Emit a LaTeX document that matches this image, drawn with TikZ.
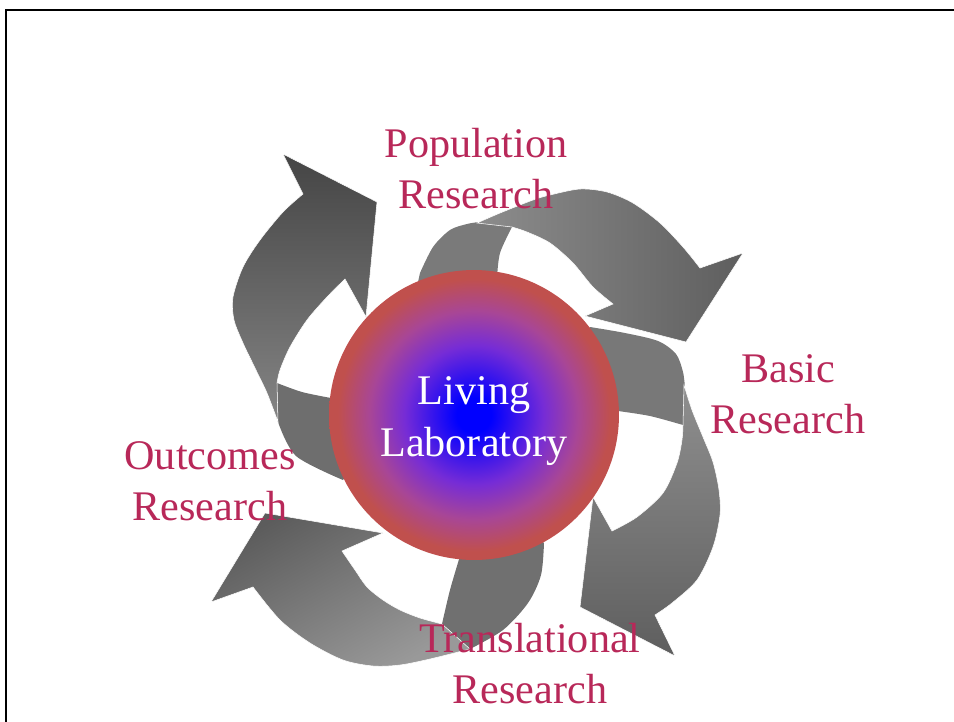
\documentclass[tikz,border=0pt]{standalone}
\usepackage{fontspec}
\setmainfont{Liberation Serif}
\definecolor{labelred}{RGB}{184,40,89}
\definecolor{labred}{RGB}{192,80,77}
\definecolor{labmid}{RGB}{118,44,214}
\definecolor{labpink}{RGB}{168,70,150}
\pgfdeclareradialshading{livinglab}{\pgfpoint{0bp}{0bp}}{color(0bp)=(blue); color(3bp)=(blue); color(12bp)=(labmid); color(18bp)=(labpink); color(23.5bp)=(labred); color(50bp)=(labred)}
\tikzset{
  frameline/.style={line width=1.1pt},
  arrowbody/.style={draw=white, line width=0.3pt},
  research/.style={text=labelred, font=\fontsize{24}{29}\selectfont, align=center, inner sep=0pt},
  labcircle/.style={circle, minimum size=5.8cm, inner sep=0pt, shade, shading=livinglab},
  labtext/.style={text=white, font=\fontsize{24}{29.5}\selectfont, align=center, inner sep=0pt}
}
\begin{document}
\begin{tikzpicture}[x=0.02cm,y=-0.02cm]

\def\TOPTAIL{black!52}
\def\RIGHTTAIL{black!53}
\def\BOTTOMTAIL{black!56}
\def\LEFTTAIL{black!57}
	\useasboundingbox (0,0) rectangle (954,721);
	\draw[frameline] (6,722) |- (955,10);
	\fill[\TOPTAIL] (414,300) -- plot[smooth] coordinates {(420,273) (433,247) (450,230) (467,224) (479,222)} -- plot[smooth] coordinates {(512,227) (500,253) (497,278)} -- (490,300) -- cycle;
	\fill[\RIGHTTAIL] (580,345) -- plot[smooth] coordinates {(590,327) (625,333) (658,341) (676,354) (683,372) (685,388)} -- plot[smooth] coordinates {(683,425) (650,416) (618,411)} -- (600,400) -- cycle;
	\fill[\BOTTOMTAIL] (530,530) -- plot[smooth] coordinates {(544,543) (541,575) (528,603) (503,630) (470,649)} -- plot[smooth] coordinates {(442,624) (450,590) (460,556)} -- (470,540) -- cycle;
	\fill[\LEFTTAIL] (350,400) -- plot[smooth] coordinates {(331,398) (302,392) (277,383)} -- plot[smooth] coordinates {(278,422) (296,456) (343,480)} -- (350,470) -- cycle;
	\shade[arrowbody, left color=black!45, right color=black!63] plot[smooth] coordinates {(477,223) (500,213) (533,200) (550,195) (580,189) (607,192) (633,203) (660,223) (683,247) (700,268)} -- (743,253) -- (686,342) -- (585,316) -- plot[smooth] coordinates {(613,304) (593,287) (573,263) (550,243) (527,232) (512,227)} -- cycle;
	\shade[arrowbody, top color=black!44, bottom color=black!63] plot[smooth] coordinates {(684,385) (692,410) (703,437) (713,462) (719,490) (720,515) (713,547) (697,580) (672,603) (655,615)} -- (675,656) -- (580,607) -- (593,497) -- plot[smooth] coordinates {(612,531) (637,517) (663,493) (677,463) (682,440) (683,425)} -- cycle;
	\shade[arrowbody, top color=black!64, bottom color=black!40, shading angle=30] plot[smooth] coordinates {(470,649) (430,659) (400,665) (373,666) (343,660) (310,643) (280,620) (253,587)} -- (211,602) -- (265,513) -- (383,533) -- plot[smooth] coordinates {(342,551) (355,570) (367,587) (383,600) (400,610) (420,618) (442,624)} -- cycle;
	\shade[arrowbody, top color=black!73, bottom color=black!48] plot[smooth] coordinates {(278,422) (267,393) (255,368) (243,343) (234,320) (233,297) (243,267) (260,240) (283,212) (303,194)} -- (283,154) -- (377,202) -- (366,317) -- plot[smooth] coordinates {(345,279) (327,297) (307,320) (290,347) (280,370) (277,383)} -- cycle;
	\node[labcircle] (lab) at (474,415) {};
	\node[labtext] (labname) at (474,421) {Living\\Laboratory};
	\node[research] (population) at (476,169) {Population\\Research};
	\node[research] (basic) at (788,394) {Basic\\Research};
	\node[research] (outcomes) at (210,481) {Outcomes\\Research};
	\node[research] (translational) at (530,664) {Translational\\Research};

\end{tikzpicture}
\end{document}
